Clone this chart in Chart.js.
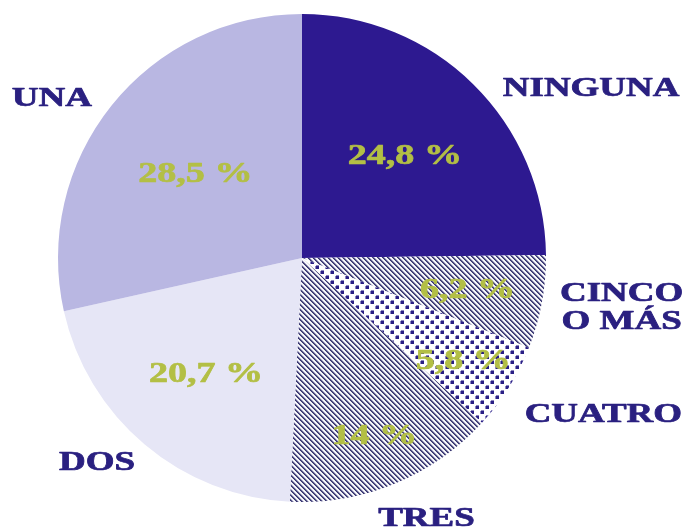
<!DOCTYPE html>
<html>
<head>
<meta charset="utf-8">
<script src="https://cdn.jsdelivr.net/npm/chart.js@4"></script>
<style>
html,body{margin:0;padding:0;background:#fff;}
#wrap{width:689px;height:529px;position:relative;}
</style>
</head>
<body>
<div id="wrap"><canvas id="c" width="689" height="529"></canvas></div>
<script>
const categories = [['NINGUNA'], ['CINCO', 'O MÁS'], ['CUATRO'], ['TRES'], ['DOS'], ['UNA']];
const shares = [24.8, 6.2, 5.8, 14, 20.7, 28.5];

function stripePattern(){
  const n = 5;
  const shades = ['#36346e', '#5a588c', '#c4c4da', '#ffffff', '#e8e8f0'];
  const t = document.createElement('canvas');
  t.width = n; t.height = n;
  const g = t.getContext('2d');
  for (let y=0;y<n;y++) for (let x=0;x<n;x++){
    const m = ((x - y) % n + n) % n;
    g.fillStyle = shades[m]; g.fillRect(x,y,1,1);
  }
  return g.createPattern(t,'repeat');
}
function dotPattern(){
  const t = document.createElement('canvas');
  t.width = 10; t.height = 10;
  const g = t.getContext('2d');
  g.fillStyle = '#ffffff'; g.fillRect(0,0,10,10);
  g.fillStyle = '#2a1f85';
  g.fillRect(1,1,3,3);
  g.fillRect(6,6,3,3);
  g.fillStyle = '#8a84c0';
  g.fillRect(0,1,1,3); g.fillRect(1,0,3,1);
  g.fillRect(5,6,1,3); g.fillRect(6,5,3,1);
  return g.createPattern(t,'repeat');
}

const sliceFills = ['#2d1990', stripePattern(), dotPattern(), stripePattern(), '#e6e6f6', '#b9b7e2'];

const labelPlugin = {
  id: 'sliceLabels',
  afterDatasetsDraw(chart, args, opts) {
    const ctx = chart.ctx;
    const meta = chart.getDatasetMeta(0);
    meta.data.forEach((arc, i) => {
      const p = arc.getProps(['x','y','startAngle','endAngle','outerRadius'], true);
      const r = p.outerRadius;
      const mid = (p.startAngle + p.endAngle) / 2;
      const f = opts.valueRadius[i];
      const vx = p.x + Math.cos(mid) * r * f;
      const vy = p.y + Math.sin(mid) * r * f;
      const txt = String(chart.data.datasets[0].data[i]).replace('.', ',') + ' %';
      drawStretched(ctx, txt, vx, vy, 30, opts.valueStretch, opts.valueColor);
      const off = opts.nameOffset[i];
      const lines = chart.data.labels[i];
      const lh = 28;
      const cx = p.x + off[0] * r, cy = p.y + off[1] * r;
      lines.forEach((ln, k) => {
        drawStretched(ctx, ln, cx, cy + (k - (lines.length - 1) / 2) * lh, 28, opts.nameStretch, opts.nameColor);
      });
    });
  }
};
function drawStretched(ctx, txt, x, y, size, sx, color){
  ctx.save();
  ctx.translate(x, y);
  ctx.scale(sx, 1);
  ctx.font = 'bold ' + size + 'px "Liberation Serif", "DejaVu Serif", serif';
  ctx.fillStyle = color;
  ctx.strokeStyle = color;
  ctx.lineWidth = 0.7;
  ctx.lineJoin = 'round';
  ctx.textAlign = 'center';
  ctx.textBaseline = 'alphabetic';
  ctx.fillText(txt, 0, size * 0.33);
  ctx.strokeText(txt, 0, size * 0.33);
  ctx.restore();
}

new Chart(document.getElementById('c'), {
  type: 'pie',
  data: {
    labels: categories,
    datasets: [{
      data: shares,
      backgroundColor: sliceFills,
      borderWidth: 0
    }]
  },
  options: {
    responsive: false,
    animation: false,
    layout: { padding: { left: 57, right: 142, top: 14, bottom: 27 } },
    plugins: {
      legend: { display: false },
      tooltip: { enabled: false },
      sliceLabels: {
        valueRadius: [0.6, 0.69, 0.78, 0.78, 0.61, 0.56],
        nameOffset: [[1.185, -0.70], [1.31, 0.195], [1.235, 0.635], [0.51, 1.06], [-0.84, 0.83], [-1.025, -0.66]],
        valueColor: '#b3bf45',
        nameColor: '#2a2080',
        valueStretch: 1.27,
        nameStretch: 1.32
      }
    }
  },
  plugins: [labelPlugin]
});
</script>
</body>
</html>
